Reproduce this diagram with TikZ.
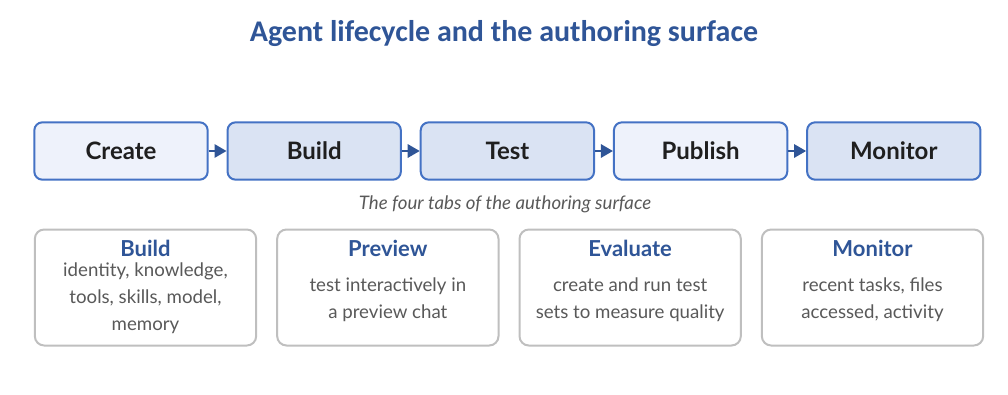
\documentclass[tikz,border=0pt]{standalone}
\usepackage{fontspec}
\setmainfont{Lato}
\newfontfamily\titlefont{Carlito}
\usetikzlibrary{positioning,arrows.meta}

\definecolor{stageline}{HTML}{4472C4}
\definecolor{stagelight}{HTML}{EEF2FB}
\definecolor{stagedark}{HTML}{DAE3F3}
\definecolor{accent}{HTML}{2F5597}
\definecolor{cardline}{HTML}{BFBFBF}
\definecolor{bodytext}{HTML}{595959}

\begin{document}
\begin{tikzpicture}[
    x=0.75pt, y=-0.75pt,
    node distance=14.25pt,
    stage/.style={rectangle, draw=stageline, line width=1.5pt, rounded corners=6pt, minimum width=130pt, minimum height=43pt, font=\fontsize{18}{21}\selectfont\bfseries, text=black!88},
    card/.style={rectangle, draw=cardline, line width=1.5pt, rounded corners=7pt, minimum width=166pt, minimum height=87pt, fill=white},
    cardhead/.style={font=\fontsize{16.5}{19}\selectfont\bfseries, text=accent},
    cardbody/.style={align=center, font=\fontsize{14}{20.25}\selectfont, text=bodytext},
    flow/.style={-{Triangle[length=9pt, width=10pt]}, line width=1.5pt, draw=accent}
]
    \useasboundingbox (0,0) rectangle (1008,394);

    % Title
    \node[font=\titlefont\fontsize{22.5}{26}\selectfont\bfseries, text=accent] (title) at (504,34) {Agent lifecycle and the authoring surface};

    % Lifecycle stages
    \node[stage, fill=stagelight] (create) at (121,151) {Create};
    \node[stage, fill=stagedark, right=13.4pt of create] (build) {Build};
    \node[stage, fill=stagedark, right=13.4pt of build] (test) {Test};
    \node[stage, fill=stagelight, right=13.4pt of test] (publish) {Publish};
    \node[stage, fill=stagedark, right=13.4pt of publish] (monitor) {Monitor};

    % Arrows between stages
    \draw[flow] (create) -- (build);
    \draw[flow] (build) -- (test);
    \draw[flow] (test) -- (publish);
    \draw[flow] (publish) -- (monitor);

    % Caption
    \node[font=\fontsize{14}{17}\selectfont\itshape, text=bodytext] (caption) at (505,204) {The four tabs of the authoring surface};

    % Authoring tabs
    \node[card] (tabbuild) at (145.5,287.5) {};
    \node[card, right=of tabbuild] (tabpreview) {};
    \node[card, right=of tabpreview] (tabevaluate) {};
    \node[card, right=of tabevaluate] (tabmonitor) {};

    \node[cardhead, below=5pt of tabbuild.north] (hbuild) {Build};
    \node[cardhead, below=5pt of tabpreview.north] (hpreview) {Preview};
    \node[cardhead, below=5pt of tabevaluate.north] (hevaluate) {Evaluate};
    \node[cardhead, below=5pt of tabmonitor.north] (hmonitor) {Monitor};

    \node[cardbody] (bbuild) at ([yshift=-8pt]tabbuild.center) {identity, knowledge,\\tools, skills, model,\\memory};
    \node[cardbody] (bpreview) at ([yshift=-9.5pt]tabpreview.center) {test interactively in\\a preview chat};
    \node[cardbody] (bevaluate) at ([yshift=-9.5pt]tabevaluate.center) {create and run test\\sets to measure quality};
    \node[cardbody] (bmonitor) at ([yshift=-9.5pt]tabmonitor.center) {recent tasks, files\\accessed, activity};

\end{tikzpicture}
\end{document}
